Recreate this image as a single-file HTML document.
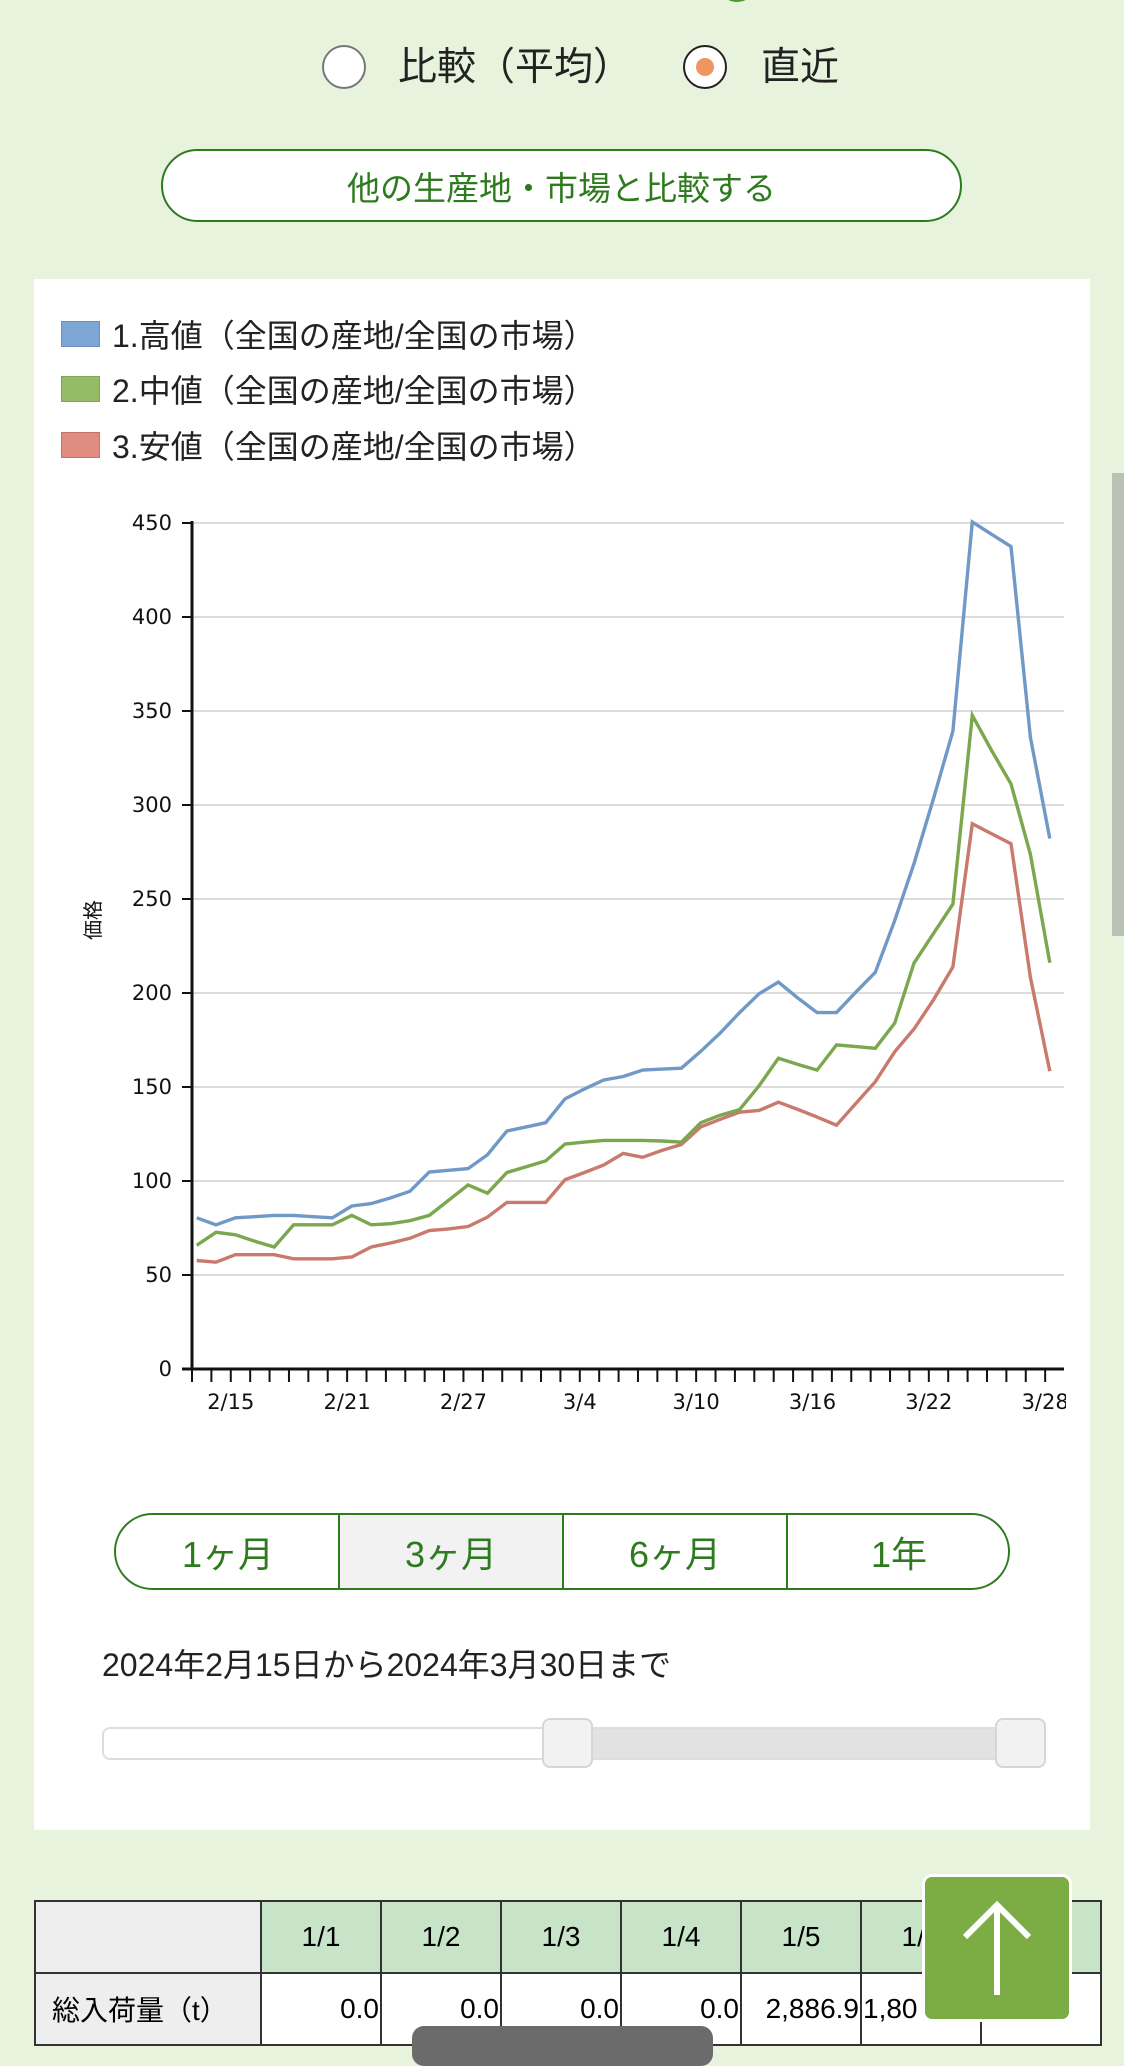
<!DOCTYPE html>
<html><head><meta charset="utf-8">
<style>
body{margin:0;width:1124px;height:2048px;overflow:hidden;background:#e7f3dc;font-family:"Liberation Sans","Noto Sans CJK JP",sans-serif;position:relative}
.abs{position:absolute}
.radio{position:absolute;width:44px;height:44px;border-radius:50%;border:2px solid #777;background:#fff;box-sizing:border-box}
.lbl{position:absolute;font-size:39px;color:#222;line-height:1}
.seg{position:absolute;top:0;height:100%;width:224px;display:flex;align-items:center;justify-content:center;color:#2e7a1f;font-size:36px;box-sizing:border-box}
table{border-collapse:collapse;position:absolute;left:34px;top:1900px;font-size:28px}
td{border:2px solid #333;height:72px;box-sizing:border-box}
</style></head><body>
<div class="abs" style="left:722px;top:-20px;width:30px;height:22px;border-radius:50%;background:#4c9a2a"></div>
<div class="radio" style="left:322px;top:45px"></div>
<div class="lbl" style="left:398px;top:48px">比較（平均）</div>
<div class="radio" style="left:683px;top:45px;border-color:#222"><div style="position:absolute;left:11px;top:11px;width:18px;height:18px;border-radius:50%;background:#ef9560"></div></div>
<div class="lbl" style="left:761px;top:48px">直近</div>
<div class="abs" style="left:161px;top:149px;width:801px;height:73px;border:2px solid #2e7a1f;border-radius:37px;background:#fff;box-sizing:border-box;display:flex;align-items:center;justify-content:center;color:#2e7a1f;font-size:33px">他の生産地・市場と比較する</div>

<div class="abs" style="left:34px;top:279px;width:1056px;height:1551px;background:#fff"></div>
<div class="abs" style="left:61px;top:312px">
 <div style="position:absolute;top:0;height:44px;display:flex;align-items:center;white-space:nowrap;font-size:32px;color:#222"><span style="width:37px;height:24px;background:#7ea6d4;border:1px solid #6d8fba;margin-right:12px;display:inline-block"></span>1.高値（全国の産地/全国の市場）</div>
 <div style="position:absolute;top:55px;height:44px;display:flex;align-items:center;white-space:nowrap;font-size:32px;color:#222"><span style="width:37px;height:24px;background:#94bc66;border:1px solid #7fa556;margin-right:12px;display:inline-block"></span>2.中値（全国の産地/全国の市場）</div>
 <div style="position:absolute;top:111px;height:44px;display:flex;align-items:center;white-space:nowrap;font-size:32px;color:#222"><span style="width:37px;height:24px;background:#e08c80;border:1px solid #c47366;margin-right:12px;display:inline-block"></span>3.安値（全国の産地/全国の市場）</div>
</div>
<svg id="chart" class="abs" style="left:0;top:0" width="1124" height="1480"></svg>

<div class="abs" style="left:114px;top:1513px;width:896px;height:77px;border:2px solid #2e7a1f;border-radius:39px;overflow:hidden;background:#fff;box-sizing:border-box">
 <div class="seg" style="left:0">1ヶ月</div>
 <div class="seg" style="left:222px;background:#f2f2f2;border-left:2px solid #2e7a1f">3ヶ月</div>
 <div class="seg" style="left:446px;border-left:2px solid #2e7a1f">6ヶ月</div>
 <div class="seg" style="left:670px;border-left:2px solid #2e7a1f">1年</div>
</div>
<div class="abs" style="left:102px;top:1640px;font-size:32px;color:#222">2024年2月15日から2024年3月30日まで</div>
<div class="abs" style="left:102px;top:1727px;width:942px;height:33px;border:2px solid #ddd;border-radius:8px;background:#fff;box-sizing:border-box"></div>
<div class="abs" style="left:568px;top:1729px;width:450px;height:29px;background:#e2e2e2"></div>
<div class="abs" style="left:542px;top:1718px;width:51px;height:50px;border:2px solid #d6d6d6;border-radius:8px;background:#f2f2f2;box-sizing:border-box"></div>
<div class="abs" style="left:995px;top:1718px;width:51px;height:50px;border:2px solid #d6d6d6;border-radius:8px;background:#f2f2f2;box-sizing:border-box"></div>

<table>
<tr><td style="width:226px;background:#eee"></td><td style="width:120px;background:#c8e4c8;text-align:center">1/1</td><td style="width:120px;background:#c8e4c8;text-align:center">1/2</td><td style="width:120px;background:#c8e4c8;text-align:center">1/3</td><td style="width:120px;background:#c8e4c8;text-align:center">1/4</td><td style="width:120px;background:#c8e4c8;text-align:center">1/5</td><td style="width:120px;background:#c8e4c8;text-align:center">1/6</td><td style="width:120px;background:#c8e4c8"></td></tr>
<tr><td style="background:#eee;padding-left:16px">総入荷量（t）</td><td style="text-align:right;background:#fff">0.0</td><td style="text-align:right;background:#fff">0.0</td><td style="text-align:right;background:#fff">0.0</td><td style="text-align:right;background:#fff">0.0</td><td style="text-align:right;background:#fff">2,886.9</td><td style="background:#fff">1,80</td><td style="background:#fff">0.0</td></tr>
</table>
<div class="abs" style="left:922px;top:1874px;width:150px;height:148px;background:#7cac44;border:3px solid #fff;border-radius:10px;box-sizing:border-box">
 <svg width="144" height="142"><path d="M72 118 V28 M40 60 L72 28 L104 60" stroke="#fff" stroke-width="6" fill="none"/></svg>
</div>
<div class="abs" style="left:412px;top:2026px;width:301px;height:40px;background:#6b6b6b;border-radius:12px"></div>
<div class="abs" style="left:1112px;top:473px;width:12px;height:463px;background:#b9c1b4"></div>

<script>
const dayLabels=["2/15","2/21","2/27","3/4","3/10","3/16","3/22","3/28"];
const labelDayIndex=[2,8,14,20,26,32,38,44];
const yTicks=[0,50,100,150,200,250,300,350,400,450];
const highValues=[80.4,76.7,80.4,81,81.7,81.7,81,80.4,86.7,88,91,94.5,104.8,105.7,106.6,114,126.6,128.8,131,143.7,149,153.7,155.6,159,159.5,160,169,178.7,189.6,199.6,205.8,197.4,189.6,189.6,200.5,211,238.5,269,303.4,339.3,450.6,444,437.5,336,282.2];
const midValues=[65.8,72.7,71.4,68,64.9,76.7,76.7,76.7,81.7,76.7,77.3,78.9,81.7,89.8,97.9,93.5,104.5,107.6,110.7,119.7,120.7,121.6,121.6,121.6,121.3,120.7,131,135,138,150.6,165.3,162,159,172.4,171.5,170.6,184,216,231.7,247.3,347.7,329,311.2,273.8,216.1];
const lowValues=[57.7,56.8,60.8,60.8,60.8,58.6,58.6,58.6,59.6,64.9,67,69.5,73.6,74.5,75.8,80.8,88.6,88.6,88.6,100.7,104.5,108.5,114.7,112.6,116.3,119.4,128.8,132.8,136.6,137.5,141.9,138.1,134,129.7,141.3,152.8,168.7,180.9,196.4,213.9,290,284.7,279.4,208.3,158.4];

const NS="http://www.w3.org/2000/svg";
const svg=document.getElementById('chart');
const X0=192,X1=1064,DAY=19.39,Y0=1369,YT=523,YMAX=450,NDAYS=45;
function xTick(k){return X0+k*DAY;}
function xPt(i){return X0+(i+0.24)*DAY;}
function yS(v){return Y0-(v/YMAX)*(Y0-YT);}
function mk(tag,attrs){const e=document.createElementNS(NS,tag);for(const k in attrs)e.setAttribute(k,attrs[k]);svg.appendChild(e);return e;}

yTicks.forEach(v=>{
  if(v>0){const g=mk('line',{x1:X0,x2:X1,y1:yS(v),y2:yS(v),stroke:'#dcdcdc','stroke-width':2});
  
  }
  const t=mk('line',{x1:X0-10,x2:X0,y1:yS(v),y2:yS(v),stroke:'#111','stroke-width':2});
  
  
  const l=mk('text',{x:X0-20,y:yS(v)+7,'text-anchor':'end','font-size':21,fill:'#111','font-family':'DejaVu Sans, sans-serif'});
  l.textContent=v;
  
  
});
const ya=mk('line',{x1:X0,x2:X0,y1:YT-2,y2:Y0,stroke:'#111','stroke-width':3});


const xa=mk('line',{x1:X0-10,x2:X1,y1:Y0,y2:Y0,stroke:'#111','stroke-width':3});


for(let k=0;k<NDAYS;k++){
  const t=mk('line',{x1:xTick(k),x2:xTick(k),y1:Y0,y2:Y0+13,stroke:'#111','stroke-width':2});
  
  
}
dayLabels.forEach((s,i)=>{
  const l=mk('text',{x:xTick(labelDayIndex[i]),y:Y0+40,'text-anchor':'middle','font-size':21,fill:'#111','font-family':'DejaVu Sans, sans-serif'});
  l.textContent=s;
  
  
});
const yt=mk('text',{x:0,y:0,'font-size':20,fill:'#111',transform:'translate(100,920) rotate(-90)','text-anchor':'middle','font-family':'Liberation Sans, Noto Sans CJK JP, sans-serif'});
yt.textContent='価格';


const cover=mk('rect',{x:X1+2,y:Y0+15,width:24,height:40,fill:'#fff'});



function series(vals,color,name){
  const d=vals.map((v,i)=>(i?'L':'M')+xPt(i).toFixed(1)+' '+yS(v).toFixed(1)).join(' ');
  const p=mk('path',{d:d,fill:'none',stroke:color,'stroke-width':3.4,'stroke-linejoin':'miter'});
  
  
}
series(lowValues,'#c97a6d','line-low');
series(midValues,'#7ba84e','line-mid');
series(highValues,'#7099c6','line-high');
</script>
</body></html>
